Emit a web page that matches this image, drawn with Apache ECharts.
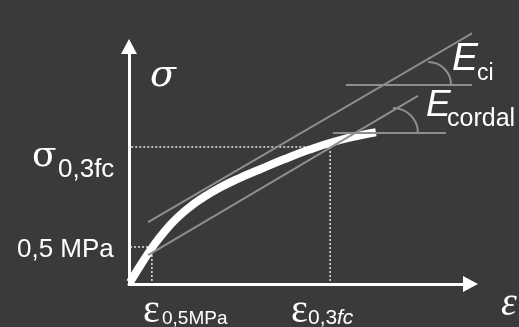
<!DOCTYPE html>
<html><head><meta charset="utf-8">
<script src="https://cdn.jsdelivr.net/npm/echarts@6/dist/echarts.min.js"></script>
<style>html,body{margin:0;padding:0;background:#3a3a3a;overflow:hidden}#c{width:519px;height:327px}</style>
</head><body><div id="c"></div>
<script>
// stress-strain curve (strain, stress) in axis units 0..100
const curveStrain = [0.3, 3.5, 7.0, 10.5, 14.1, 17.6, 21.1, 26.4, 32.2, 38.1, 45.4, 52.7, 60.0, 67.4, 72.3];
const curveStress = [0.7, 8.2, 15.8, 22.3, 27.8, 32.2, 35.8, 40.4, 44.5, 48.1, 52.5, 56.5, 59.9, 62.5, 63.9];
// tangent line (E_ci)
const tangentStrain = [5.6, 112.2];
const tangentStress = [26.1, 115.4];
// chord line (E_cordal)
const chordStrain = [5.6, 84.6];
const chordStress = [12.2, 79.2];
// horizontal reference lines for the angles
const refCiStrain = [63.5, 103.1];
const refCiStress = 83.8;
const refCordalStrain = [59.7, 92.8];
const refCordalStress = 63.6;
// characteristic points
const eps05 = 6.7, sig05 = 15.6;
const eps03 = 58.9, sig03 = 57.7;
const axisStart = -3.2;
// angle arcs: [centerStrain, centerStress, radiusStrain]
const arcCi = [87.6, 83.8, 6.7];
const arcCordal = [77.3, 63.6, 7.3];
// tick labels
const yTickLabels = ['0,5 MPa', 'σ', '0,3fc'];
const xTickLabels = ['ε', '0,5MPa', 'ε', '0,3', 'fc'];

const zip = (xs, ys) => xs.map((x, i) => [x, Array.isArray(ys) ? ys[i] : ys]);
const gray = '#8e8e8e';
const white = '#ffffff';
const sans = '"Liberation Sans", Arial, sans-serif';
const serif = '"Liberation Serif", "DejaVu Serif", serif';
const dserif = '"DejaVu Serif", serif';

function seg(data, color, width, dash, z) {
  return { type: 'line', data, showSymbol: false, clip: false, silent: true, z: z || 2,
    lineStyle: { color, width, type: dash ? [2, 2] : 'solid', cap: 'butt' }, animation: false };
}
function arcSeries(a) {
  return { type: 'custom', clip: false, silent: true, z: 4, animation: false,
    data: [a],
    renderItem: (params, api) => {
      const c = api.coord([api.value(0), api.value(1)]);
      const r = api.size([api.value(2), 0])[0];
      return { type: 'arc', shape: { cx: c[0], cy: c[1], r, startAngle: -Math.PI / 2, endAngle: 0, clockwise: true },
        style: { stroke: gray, lineWidth: 2, fill: null } };
    } };
}
function txt(x, y, text, font) {
  return { type: 'text', x, y, z: 10, style: { text, font, fill: white, align: 'left', verticalAlign: 'middle' } };
}

const chart = echarts.init(document.getElementById('c'), null, { renderer: 'canvas' });
chart.setOption({
  backgroundColor: '#3a3a3a',
  animation: false,
  grid: { left: 129, right: 48.5, top: 46.5, bottom: 43 },
  xAxis: { type: 'value', min: 0, max: 100, splitLine: { show: false }, axisTick: { show: false }, axisLabel: { show: false },
    axisLine: { show: true, onZero: false, symbol: ['none', 'triangle'], symbolSize: [16, 15], lineStyle: { color: white, width: 3 } } },
  yAxis: { type: 'value', min: 0, max: 100, splitLine: { show: false }, axisTick: { show: false }, axisLabel: { show: false },
    axisLine: { show: true, onZero: false, symbol: ['none', 'triangle'], symbolSize: [16, 15], lineStyle: { color: white, width: 3 } } },
  series: [
    seg([[axisStart - 2, sig03], [eps03, sig03]], '#e8e8e8', 1.5, true, 1),
    seg([[eps03, sig03], [eps03, 0]], '#e8e8e8', 1.5, true, 1),
    seg([[axisStart, sig05], [eps05, sig05]], '#e8e8e8', 1.5, true, 1),
    seg([[eps05, sig05], [eps05, 0]], '#e8e8e8', 1.5, true, 1),
    { type: 'line', data: zip(curveStrain, curveStress), smooth: 0.5, showSymbol: false, clip: false, silent: true, z: 2,
      lineStyle: { color: white, width: 8, cap: 'butt', join: 'round' }, animation: false },
    seg(zip(tangentStrain, tangentStress), gray, 2, false, 3),
    seg(zip(chordStrain, chordStress), gray, 2, false, 3),
    seg(zip(refCiStrain, refCiStress), gray, 2, false, 3),
    seg(zip(refCordalStrain, refCordalStress), gray, 2, false, 3),
    arcSeries(arcCi),
    arcSeries(arcCordal)
  ],
  graphic: [
    txt(150, 76, 'σ', 'italic 38px ' + dserif),
    txt(32, 156.5, yTickLabels[1], '36px ' + dserif),
    txt(58, 170.3, yTickLabels[2], '26px ' + sans),
    txt(17, 249.4, yTickLabels[0], '26px ' + sans),
    txt(143, 311.5, xTickLabels[0], '40px ' + serif),
    txt(162, 318.4, xTickLabels[1], '19px ' + sans),
    txt(291, 311.5, xTickLabels[2], '40px ' + serif),
    txt(308, 318.4, xTickLabels[3], '21px ' + sans),
    txt(337, 318.4, xTickLabels[4], 'italic 21px ' + sans),
    txt(501, 304.5, 'ε', 'italic 40px ' + serif),
    txt(452, 58.8, 'E', 'italic 39px ' + sans),
    txt(477, 74, 'ci', '23px ' + sans),
    txt(426, 105.5, 'E', 'italic 37px ' + sans),
    txt(447, 118.9, 'cordal', '25px ' + sans)
  ]
});
</script></body></html>
